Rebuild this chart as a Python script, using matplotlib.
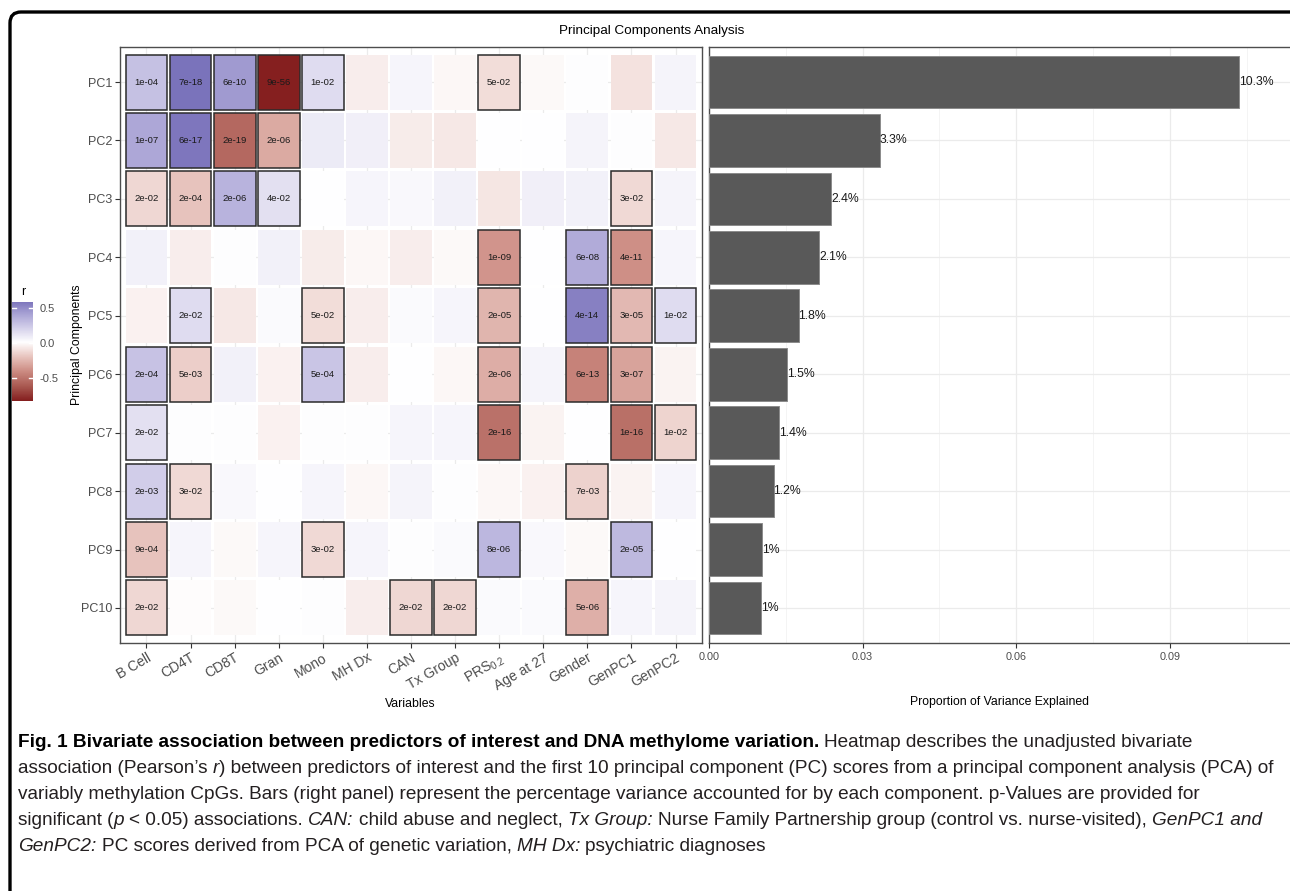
import matplotlib
matplotlib.use("Agg")
import matplotlib.pyplot as plt
import numpy as np
from matplotlib.colors import LinearSegmentedColormap, Normalize
from matplotlib.patches import Rectangle, FancyBboxPatch
from matplotlib.transforms import IdentityTransform, ScaledTranslation
from matplotlib import font_manager as fm

# ---------------- data ----------------
variables = ["B Cell", "CD4T", "CD8T", "Gran", "Mono", "MH Dx", "CAN", "Tx Group",
             "PRS$_{0.2}$", "Age at 27", "Gender", "GenPC1", "GenPC2"]
components = ["PC1", "PC2", "PC3", "PC4", "PC5", "PC6", "PC7", "PC8", "PC9", "PC10"]

r_pc1 = [0.27, 0.58, 0.43, -0.83, 0.15, -0.06, 0.04, -0.03, -0.12, -0.02, 0.01, -0.10, 0.05]
r_pc2 = [0.38, 0.57, -0.56, -0.30, 0.09, 0.07, -0.07, -0.08, 0.00, 0.00, 0.05, 0.01, -0.08]
r_pc3 = [-0.14, -0.21, 0.33, 0.13, 0.00, 0.04, 0.03, 0.06, -0.09, 0.07, 0.06, -0.13, 0.05]
r_pc4 = [0.06, -0.06, 0.01, 0.06, -0.07, -0.03, -0.06, -0.02, -0.38, 0.00, 0.36, -0.40, 0.04]
r_pc5 = [-0.05, 0.15, -0.08, 0.02, -0.12, -0.06, 0.02, 0.04, -0.26, 0.00, 0.53, -0.25, 0.15]
r_pc6 = [0.26, -0.17, 0.06, -0.05, 0.25, -0.06, 0.00, -0.03, -0.29, 0.05, -0.45, -0.33, -0.04]
r_pc7 = [0.13, 0.01, 0.01, -0.05, 0.01, 0.01, 0.04, 0.04, -0.52, -0.04, 0.00, -0.53, -0.15]
r_pc8 = [0.22, -0.13, 0.03, 0.00, 0.04, -0.03, 0.05, 0.01, -0.03, -0.05, -0.16, -0.04, 0.04]
r_pc9 = [-0.21, 0.04, -0.02, 0.04, -0.13, 0.04, 0.01, 0.02, 0.31, 0.03, -0.02, 0.30, 0.00]
r_pc10 = [-0.14, -0.01, -0.02, 0.00, 0.01, -0.06, -0.14, -0.14, 0.02, 0.02, -0.28, 0.04, 0.05]
r_values = [r_pc1, r_pc2, r_pc3, r_pc4, r_pc5, r_pc6, r_pc7, r_pc8, r_pc9, r_pc10]

p_pc1 = ["1e-04", "7e-18", "6e-10", "9e-56", "1e-02", "", "", "", "5e-02", "", "", "", ""]
p_pc2 = ["1e-07", "6e-17", "2e-19", "2e-06", "", "", "", "", "", "", "", "", ""]
p_pc3 = ["2e-02", "2e-04", "2e-06", "4e-02", "", "", "", "", "", "", "", "3e-02", ""]
p_pc4 = ["", "", "", "", "", "", "", "", "1e-09", "", "6e-08", "4e-11", ""]
p_pc5 = ["", "2e-02", "", "", "5e-02", "", "", "", "2e-05", "", "4e-14", "3e-05", "1e-02"]
p_pc6 = ["2e-04", "5e-03", "", "", "5e-04", "", "", "", "2e-06", "", "6e-13", "3e-07", ""]
p_pc7 = ["2e-02", "", "", "", "", "", "", "", "2e-16", "", "", "1e-16", "1e-02"]
p_pc8 = ["2e-03", "3e-02", "", "", "", "", "", "", "", "", "7e-03", "", ""]
p_pc9 = ["9e-04", "", "", "", "3e-02", "", "", "", "8e-06", "", "", "2e-05", ""]
p_pc10 = ["2e-02", "", "", "", "", "", "2e-02", "2e-02", "", "", "5e-06", "", ""]
p_labels = [p_pc1, p_pc2, p_pc3, p_pc4, p_pc5, p_pc6, p_pc7, p_pc8, p_pc9, p_pc10]

variance = [0.1035, 0.0333, 0.0239, 0.0215, 0.0175, 0.0153, 0.0137, 0.0126, 0.0104, 0.0101]
variance_labels = ["10.3%", "3.3%", "2.4%", "2.1%", "1.8%", "1.5%", "1.4%", "1.2%", "1%", "1%"]

bar_ticks = [0.00, 0.03, 0.06, 0.09]
bar_tick_labels = ["0.00", "0.03", "0.06", "0.09"]
legend_ticks = [-0.5, 0.0, 0.5]
legend_tick_labels = ["-0.5", "0.0", "0.5"]

# ---------------- style ----------------
plt.rcParams['font.family'] = ['Liberation Sans', 'DejaVu Sans']
plt.rcParams['mathtext.fontset'] = 'custom'
plt.rcParams['mathtext.rm'] = 'Liberation Sans'
plt.rcParams['mathtext.it'] = 'Liberation Sans:italic'

W, H = 1290, 891
fig = plt.figure(figsize=(W / 100, H / 100), dpi=100)
fig.patch.set_facecolor('white')


def fbox(l, t, r, b):
    return [l / W, 1 - b / H, (r - l) / W, (b - t) / H]


r_arr = np.array(r_values)
rmax_abs = 0.83
cmap = LinearSegmentedColormap.from_list(
    "rwp",
    [(0.0, '#851F1F'), (0.125, '#AA5A52'), (0.25, '#CC8B82'), (0.375, '#E8C4BE'),
     (0.5, '#FFFFFF'), (0.625, '#D3CFEA'), (0.75, '#A59FD3'), (0.875, '#7068B5'),
     (1.0, '#4C429F')])
norm = Normalize(-rmax_abs, rmax_abs)

GRID = '#EBEBEB'
TICKC = '#4D4D4D'
BORDER = '#4D4D4D'

# ---------------- heatmap ----------------
ax = fig.add_axes(fbox(120, 47, 702, 643))
nrow, ncol = r_arr.shape
ax.set_xlim(-0.6, ncol - 0.4)
ax.set_ylim(nrow - 0.4, -0.6)
ax.set_xticks(range(ncol))
ax.set_yticks(range(nrow))
ax.set_yticklabels(components, fontsize=9, color=TICKC)
ax.set_xticklabels(variables, fontsize=10, color=TICKC, rotation=30,
                   ha='right', va='top', rotation_mode='anchor')
shift = ScaledTranslation(3 / 100, 0, fig.dpi_scale_trans)
for lbl in ax.get_xticklabels():
    lbl.set_transform(lbl.get_transform() + shift)
ax.set_axisbelow(True)
ax.grid(True, color=GRID, lw=0.9, zorder=0)
ax.tick_params(length=3.5, width=0.8, color='#333333', pad=2)
for s in ax.spines.values():
    s.set_color(BORDER)
    s.set_linewidth(1.0)

for i in range(nrow):
    for j in range(ncol):
        val = r_arr[i, j]
        lab = p_labels[i][j]
        if lab:
            rect = Rectangle((j - 0.475, i - 0.47), 0.95, 0.94,
                             facecolor=cmap(norm(val)), edgecolor='#2b2b2b',
                             lw=1.1, zorder=3)
        else:
            rect = Rectangle((j - 0.475, i - 0.47), 0.95, 0.94,
                             facecolor=cmap(norm(val)), edgecolor='none', zorder=2)
        ax.add_patch(rect)
        if lab:
            ax.text(j, i, lab, ha='center', va='center', fontsize=6.8,
                    color='#1a1a1a', zorder=4)

ax.set_xlabel("Variables", fontsize=8.8, color='black')
ax.set_ylabel("Principal Components", fontsize=8.8, color='black')
ax.xaxis.set_label_coords(0.498, -(698 - 643) / 596)
ax.yaxis.set_label_coords(-(120 - 83) / 582, 0.5)

# ---------------- bars ----------------
bx = fig.add_axes(fbox(709, 47, 1300, 643))
ypos = np.arange(len(variance))
bx.barh(ypos, variance, height=0.9, color='#595959', edgecolor='#8c8c8c',
        lw=0.7, zorder=3)
for y, v, lab in zip(ypos, variance, variance_labels):
    bx.text(v, y, lab, ha='left', va='center', fontsize=8.8, color='#1a1a1a', zorder=4)
bx.set_ylim(nrow - 0.4, -0.6)
bx.set_xlim(0, (1300 - 709.4) / 5117)
bx.set_xticks(bar_ticks)
bx.set_xticklabels(bar_tick_labels, fontsize=7.8, color=TICKC)
bx.set_xticks([0.015, 0.045, 0.075, 0.105], minor=True)
bx.set_yticks(ypos)
bx.set_yticklabels([])
bx.tick_params(axis='y', length=0)
bx.tick_params(axis='x', which='major', length=3.5, width=0.8, color='#333333', pad=3)
bx.tick_params(axis='x', which='minor', length=0)
bx.set_axisbelow(True)
bx.grid(True, which='major', color=GRID, lw=0.9, zorder=0)
bx.grid(True, which='minor', axis='x', color='#F2F2F2', lw=0.6, zorder=0)
for s in bx.spines.values():
    s.set_color(BORDER)
    s.set_linewidth(1.0)
bx.set_xlabel("Proportion of Variance Explained", fontsize=8.8, color='black')
bx.xaxis.set_label_coords((1000 - 709) / (1300 - 709), -(696 - 643) / 596)

fig.text(652 / W, 1 - 31 / H, "Principal Components Analysis", ha='center',
         va='center', fontsize=9.7, color='black')

# ---------------- legend ----------------
lmin, lmax = float(r_arr.min()), float(r_arr.max())
lx = fig.add_axes(fbox(12, 302, 33, 401))
grad = np.linspace(lmax, lmin, 256).reshape(-1, 1)
lx.imshow(grad, cmap=cmap, norm=norm, aspect='auto', extent=[0, 1, lmin, lmax])
for v in legend_ticks:
    lx.plot([0, 0.2], [v, v], color='white', lw=1.0)
    lx.plot([0.8, 1], [v, v], color='white', lw=1.0)
lx.set_xlim(0, 1)
lx.set_ylim(lmin, lmax)
lx.set_xticks([])
lx.yaxis.tick_right()
lx.set_yticks(legend_ticks)
lx.set_yticklabels(legend_tick_labels, fontsize=8, color=TICKC)
lx.tick_params(axis='y', length=0, pad=5)
for s in lx.spines.values():
    s.set_visible(False)
fig.text(23 / W, 1 - 292 / H, "r", ha='center', va='center', fontsize=9, color='black')

# ---------------- frame ----------------
frame = FancyBboxPatch((10, -30), 1320, H - 12 + 30,
                       boxstyle="round,pad=0,rounding_size=11",
                       transform=IdentityTransform(), facecolor='none',
                       edgecolor='black', lw=2.4)
fig.add_artist(frame)

# ---------------- caption ----------------
names = {f.name for f in fm.fontManager.ttflist}
cap_family = 'Liberation Sans Narrow' if 'Liberation Sans Narrow' in names else 'Liberation Sans'

renderer = fig.canvas.get_renderer()

cap_lines = [
    [("Fig. 1 Bivariate association between predictors of interest and DNA methylome variation.", 'b'),
     (" Heatmap describes the unadjusted bivariate", 'n')],
    [("association (Pearson\u2019s ", 'n'), ("r", 'i'),
     (") between predictors of interest and the first 10 principal component (PC) scores from a principal component analysis (PCA) of", 'n')],
    [("variably methylation CpGs. Bars (right panel) represent the percentage variance accounted for by each component. p-Values are provided for", 'n')],
    [("significant (", 'n'), ("p", 'i'), (" < 0.05) associations. ", 'n'), ("CAN:", 'i'),
     (" child abuse and neglect, ", 'n'), ("Tx Group:", 'i'),
     (" Nurse Family Partnership group (control vs. nurse-visited), ", 'n'), ("GenPC1 and", 'i')],
    [("GenPC2:", 'i'), (" PC scores derived from PCA of genetic variation, ", 'n'), ("MH Dx:", 'i'),
     (" psychiatric diagnoses", 'n')],
]


def style_kw(st, size):
    kw = dict(fontsize=size, family=[cap_family, 'DejaVu Sans'], color='#231F20')
    if st == 'b':
        kw['fontweight'] = 'bold'
        kw['color'] = 'black'
    elif st == 'i':
        kw['fontstyle'] = 'italic'
    return kw


def measure(s, kw):
    t = fig.text(0, 0, s, transform=IdentityTransform(), **kw)
    w = t.get_window_extent(renderer).width
    t.remove()
    return w


def space_w(kw):
    return measure("x x", kw) - measure("xx", kw)


def layout_line(x, y, segs, size, draw=True):
    cur = x
    for txt, st in segs:
        kw = style_kw(st, size)
        sw = space_w(kw)
        lead = len(txt) - len(txt.lstrip(' '))
        trail = len(txt) - len(txt.rstrip(' '))
        core = txt.strip(' ')
        cur += lead * sw
        if draw:
            t = fig.text(cur, y, core, transform=IdentityTransform(), va='baseline',
                         ha='left', **kw)
            w = t.get_window_extent(renderer).width
        else:
            w = measure(core, kw)
        cur += w + trail * sw
    return cur - x


base = 10.0
w2 = layout_line(0, 0, cap_lines[1], base, draw=False)
cap_size = base * (1284 - 18) / w2

baselines = [747, 773, 799, 825, 851]
for segs, yb in zip(cap_lines, baselines):
    layout_line(18, H - yb, segs, cap_size)

fig.savefig("out.png", dpi=100)
